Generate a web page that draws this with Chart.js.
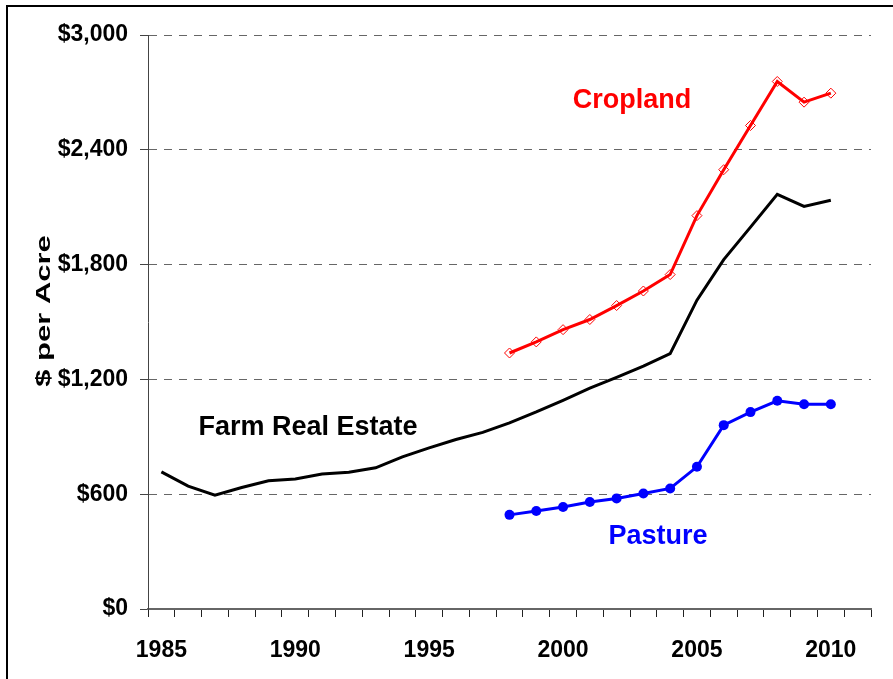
<!DOCTYPE html>
<html>
<head>
<meta charset="utf-8">
<script src="https://cdn.jsdelivr.net/npm/chart.js@4.4.1/dist/chart.umd.min.js"></script>
<style>
  html, body { margin: 0; padding: 0; background: #fff; }
  #wrap { position: relative; width: 893px; height: 679px; overflow: hidden; }
  #frame { position: absolute; left: 6px; top: 5px; width: 920px; height: 720px;
           border-left: 2px solid #000; border-top: 2px solid #000; }
  canvas { position: absolute; left: 0; top: 0; }
</style>
</head>
<body>
<div id="wrap">
  <canvas id="chart" width="893" height="679"></canvas>
  <div id="frame"></div>
</div>
<script>
// years on the category axis (last one is an empty slot, as in the original)
const years = ['1985','1986','1987','1988','1989','1990','1991','1992','1993','1994',
  '1995','1996','1997','1998','1999','2000','2001','2002','2003','2004',
  '2005','2006','2007','2008','2009','2010','2011'];
const xTickLabels = ['1985','1990','1995','2000','2005','2010'];

// $ per acre
const farmRealEstate = [717, 642, 595, 635, 670, 680, 705, 715, 738, 795,
  842, 886, 923, 973, 1030, 1091, 1154, 1211, 1269, 1335,
  1614, 1826, 1996, 2167, 2104, 2136, null];
const cropland = [null, null, null, null, null, null, null, null, null, null,
  null, null, null, 1338, 1396, 1460, 1513, 1586, 1662, 1748,
  2056, 2296, 2527, 2757, 2649, 2696, null];
const pasture = [null, null, null, null, null, null, null, null, null, null,
  null, null, null, 492, 512, 533, 559, 578, 604, 630,
  743, 961, 1029, 1088, 1070, 1070, null];

const yTicks = [0, 600, 1200, 1800, 2400, 3000];

const FONT = '"Liberation Sans", Arial, Helvetica, sans-serif';

// series names written inside the plot + rotated (stretched) axis title
const notes = {
  id: 'notes',
  afterDraw(chart) {
    const ctx = chart.ctx;
    ctx.save();
    ctx.textAlign = 'center';
    ctx.textBaseline = 'middle';
    ctx.font = 'bold 27px ' + FONT;
    ctx.fillStyle = '#ff0000';
    ctx.fillText('Cropland', 632, 101);
    ctx.fillStyle = '#000000';
    ctx.fillText('Farm Real Estate', 308, 428);
    ctx.fillStyle = '#0000ff';
    ctx.fillText('Pasture', 658, 537);

    // the original title is wider than normal text, so stretch it along its length
    ctx.translate(50, 311);
    ctx.rotate(-Math.PI / 2);
    ctx.scale(1.55, 1);
    ctx.font = 'bold 20px ' + FONT;
    ctx.textBaseline = 'alphabetic';
    ctx.fillStyle = '#000';
    ctx.fillText('$ per Acre', 0, 0);
    ctx.restore();
  }
};

new Chart(document.getElementById('chart'), {
  type: 'line',
  data: {
    labels: years,
    datasets: [
      {
        label: 'Farm Real Estate',
        data: farmRealEstate,
        borderColor: '#000',
        borderWidth: 3,
        pointRadius: 0,
        tension: 0
      },
      {
        label: 'Cropland',
        data: cropland,
        borderColor: '#ff0000',
        borderWidth: 3,
        pointStyle: 'rectRot',
        pointRadius: 5,
        pointBorderWidth: 1,
        pointBorderColor: '#ff0000',
        pointBackgroundColor: 'rgba(255,255,255,0)',
        tension: 0
      },
      {
        label: 'Pasture',
        data: pasture,
        borderColor: '#0000ff',
        borderWidth: 3,
        pointStyle: 'circle',
        pointRadius: 5,
        pointBorderWidth: 0,
        pointBackgroundColor: '#0000ff',
        tension: 0
      }
    ]
  },
  options: {
    responsive: false,
    animation: false,
    layout: { padding: { top: 35, right: 22, left: 0, bottom: 0 } },
    plugins: { legend: { display: false }, tooltip: { enabled: false } },
    scales: {
      x: {
        type: 'category',
        offset: true,
        afterFit: s => { s.height = 70; },
        grid: {
          offset: true,
          drawOnChartArea: false,
          drawTicks: true,
          tickLength: 8,
          tickColor: '#222',
          tickWidth: 1
        },
        border: { color: '#666', width: 2 },
        ticks: {
          autoSkip: false,
          maxRotation: 0,
          padding: 20,
          color: '#000',
          font: { family: FONT, size: 23, weight: 'bold' },
          callback: function (v, i) {
            const lab = this.getLabelForValue(v);
            return xTickLabels.includes(lab) ? lab : '';
          }
        }
      },
      y: {
        min: 0,
        max: 3000,
        afterFit: s => { s.width = 148; },
        afterBuildTicks: s => { s.ticks = yTicks.map(v => ({ value: v })); },
        grid: {
          color: '#666',
          lineWidth: 1,
          tickLength: 8,
          tickColor: '#444',
          tickBorderDash: []
        },
        border: { color: '#444', width: 1, dash: [8, 7] },
        ticks: {
          padding: 12,
          color: '#000',
          font: { family: FONT, size: 23, weight: 'bold' },
          callback: v => '$' + v.toLocaleString('en-US')
        }
      }
    }
  },
  plugins: [notes]
});
</script>
</body>
</html>
